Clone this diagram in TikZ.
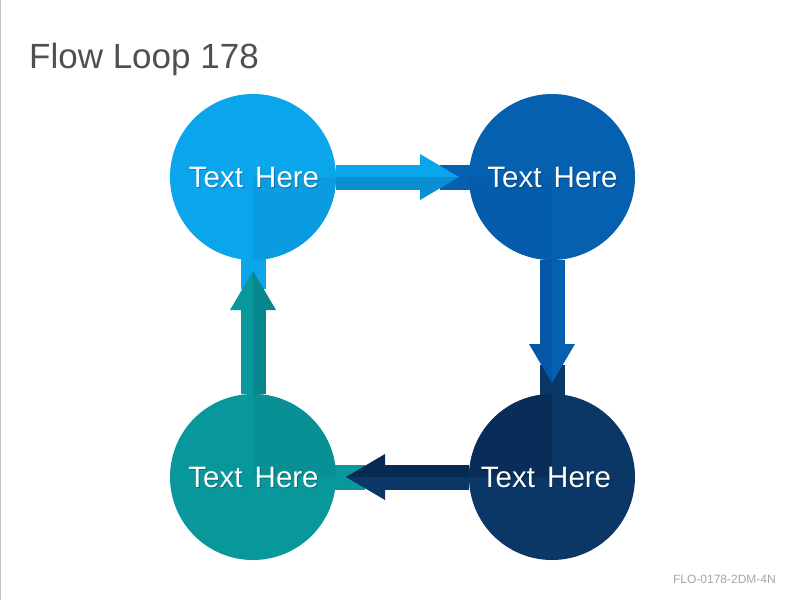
\documentclass[tikz,border=0pt]{standalone}
\usepackage{fontspec}
\setmainfont{Liberation Sans}
\newfontfamily\lblfont[WordSpace=1.5]{Liberation Sans}
\usetikzlibrary{calc}
\definecolor{cA}{HTML}{0BA5EC}
\definecolor{cAd}{HTML}{0A90D2}
\definecolor{qA}{HTML}{0A9BE0}
\definecolor{cB}{HTML}{0560B0}
\definecolor{cBd}{HTML}{0557A6}
\definecolor{qB}{HTML}{055CAB}
\definecolor{cC}{HTML}{0B3766}
\definecolor{cCd}{HTML}{072A52}
\definecolor{qC}{HTML}{092D58}
\definecolor{cD}{HTML}{08989B}
\definecolor{cDd}{HTML}{07878D}
\definecolor{qD}{HTML}{099095}
\definecolor{titlegray}{HTML}{505050}
\definecolor{footgray}{HTML}{A6A6A6}
\definecolor{edgegray}{HTML}{C0C0C0}
\tikzset{
  bubble/.style={circle, minimum size=166pt, inner sep=0pt, draw=none},
  lbl/.style={text=white, font=\lblfont\fontsize{29.5}{29.5}\selectfont, inner sep=0pt},
  lblshadow/.style={text=black, opacity=0.25, font=\lblfont\fontsize{29.5}{29.5}\selectfont, inner sep=0pt}
}
\begin{document}
\begin{tikzpicture}[x=1pt,y=-1pt]
\useasboundingbox (0,0) rectangle (800,600);
\fill[white] (0,0) rectangle (800,600);
\draw[edgegray, line width=1pt] (0.5,0) -- (0.5,600);
% title and footer
\node[anchor=base west, text=titlegray, font=\fontsize{35}{35}\selectfont, inner sep=0pt] (title) at (29,68) {Flow Loop 178};
\node[anchor=base east, text=footgray, font=\fontsize{12}{12}\selectfont, inner sep=0pt] (foot) at (776,583) {FLO-0178-2DM-4N};
% centre coordinates
\coordinate (ptl) at (253,177);
\coordinate (ptr) at (552,177);
\coordinate (pbr) at (552,477);
\coordinate (pbl) at (253,477);
% stubs of incoming arrows
\begin{scope}[shift={(ptr)}] \fill[cB] (-112,-12.5) rectangle (0,12.5); \end{scope}
\begin{scope}[shift={(ptl)}] \fill[cA] (-12.5,0) rectangle (12.5,112); \end{scope}
\begin{scope}[shift={(pbr)}] \fill[cC] (-12.5,-112) rectangle (12.5,0); \end{scope}
\begin{scope}[shift={(pbl)}] \fill[cD] (0,-12.5) rectangle (112,12.5); \end{scope}
% circles
\node[bubble, fill=cA, path picture={\fill[qA] (path picture bounding box.center) rectangle (path picture bounding box.south east);}] (tl) at (ptl) {};
\node[bubble, fill=cB, path picture={\fill[qB] (path picture bounding box.center) rectangle (path picture bounding box.south west);}] (tr) at (ptr) {};
\node[bubble, fill=cC, path picture={\fill[qC] (path picture bounding box.center) rectangle (path picture bounding box.north west);}] (br) at (pbr) {};
\node[bubble, fill=cD, path picture={\fill[qD] (path picture bounding box.center) rectangle (path picture bounding box.north east);}] (bl) at (pbl) {};
% labels
\foreach \n/\dx in {tl/1,tr/0.5,br/-6,bl/0.5}{
  \node[lblshadow] (\n s) at ($(\n.center)+(\dx+1,1.5)$) {Text Here};
  \node[lbl] (\n t) at ($(\n.center)+(\dx,0)$) {Text Here};
}
% arrow tl -> tr
\begin{scope}[shift={(tl.center)}]
  \fill[cA] (83,-12.5) rectangle (167.5,0.3);
  \fill[cAd] (83,0) rectangle (167.5,12.5);
  \fill[cA] (167,-23) -- (206,0) -- (167,0.3) -- cycle;
  \fill[cAd] (167,0) -- (206,0) -- (167,23) -- cycle;
\end{scope}
% arrow tr -> br
\begin{scope}[shift={(tr.center)}]
  \fill[cBd] (-12.5,83) rectangle (0.3,167.5);
  \fill[cB] (0,83) rectangle (12.5,167.5);
  \fill[cBd] (-23,167) -- (0,206) -- (0.3,167) -- cycle;
  \fill[cB] (0,167) -- (0,206) -- (23,167) -- cycle;
\end{scope}
% arrow br -> bl
\begin{scope}[shift={(br.center)}]
  \fill[cCd] (-83,-12.5) rectangle (-167.5,0.3);
  \fill[cC] (-83,0) rectangle (-167.5,12.5);
  \fill[cCd] (-167,-23) -- (-206,0) -- (-167,0.3) -- cycle;
  \fill[cC] (-167,0) -- (-206,0) -- (-167,23) -- cycle;
\end{scope}
% arrow bl -> tl
\begin{scope}[shift={(bl.center)}]
  \fill[cD] (-12.5,-83) rectangle (0.3,-167.5);
  \fill[cDd] (0,-83) rectangle (12.5,-167.5);
  \fill[cD] (-23,-167) -- (0,-206) -- (0.3,-167) -- cycle;
  \fill[cDd] (0,-167) -- (0,-206) -- (23,-167) -- cycle;
\end{scope}
\end{tikzpicture}
\end{document}
